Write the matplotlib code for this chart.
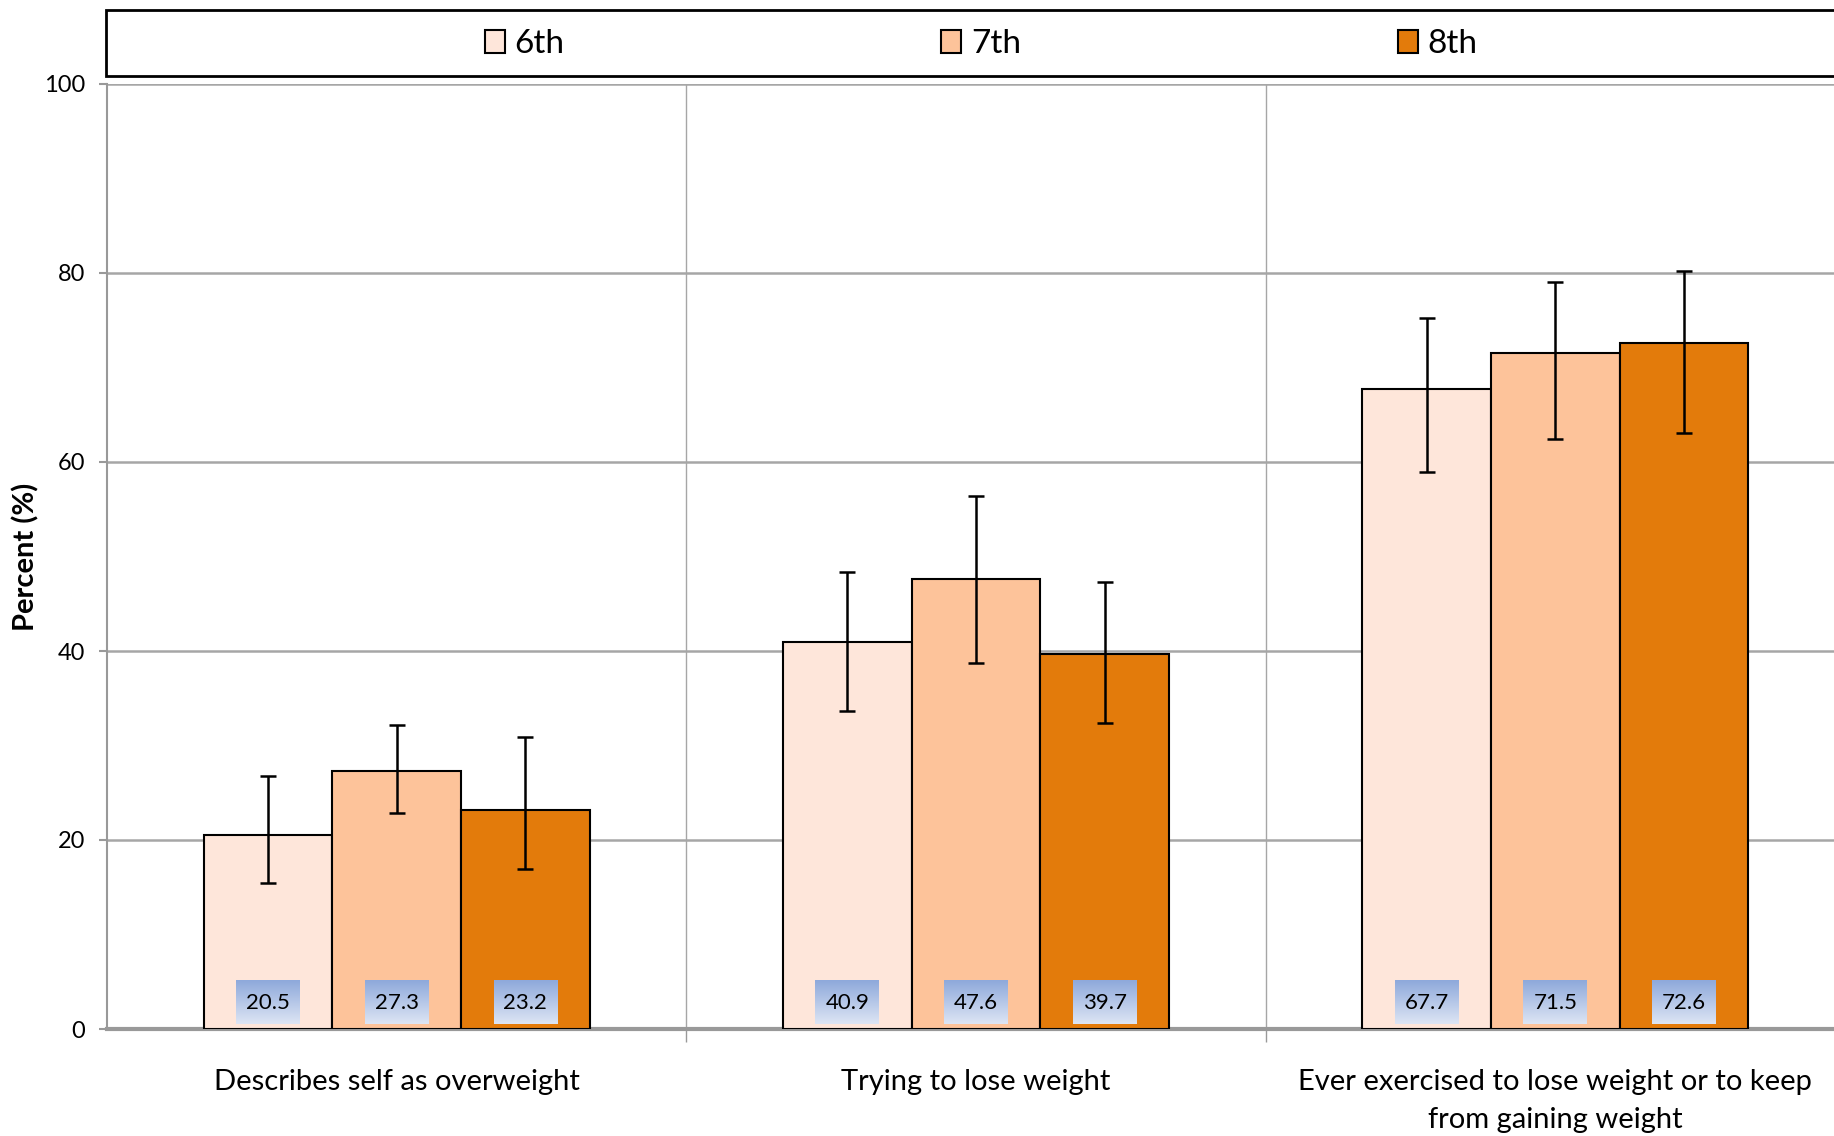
import numpy as np
import matplotlib.pyplot as plt
from matplotlib.patches import Rectangle, Patch

plt.rcParams['font.family'] = ['Lato', 'DejaVu Sans']

# ============================================================
# Data
# ============================================================
categories = ['Describes self as overweight',
              'Trying to lose weight',
              'Ever exercised to lose weight or to keep\nfrom gaining weight']
grades = ['6th', '7th', '8th']
pct_6th = [20.5, 40.9, 67.7]
pct_7th = [27.3, 47.6, 71.5]
pct_8th = [23.2, 39.7, 72.6]
# 95% confidence limits
low_6th = [15.4, 33.7, 58.9]
high_6th = [26.8, 48.4, 75.2]
low_7th = [22.9, 38.7, 62.4]
high_7th = [32.2, 56.4, 79.0]
low_8th = [16.9, 32.4, 63.1]
high_8th = [30.9, 47.3, 80.2]

values = [pct_6th, pct_7th, pct_8th]
lows = [low_6th, low_7th, low_8th]
highs = [high_6th, high_7th, high_8th]
colors = ['#FEE6DA', '#FDC39A', '#E37B0B']

# ============================================================
# Plot
# ============================================================
W, H = 1834, 1136
fig = plt.figure(figsize=(W / 100, H / 100), dpi=100)
ax = fig.add_axes([107 / W, 107 / H, 1738 / W, 945 / H])

x = np.arange(len(categories))
bw = 2 / 9
grad = np.linspace(0, 1, 64).reshape(-1, 1)
top_c = np.array([0x8E, 0xA9, 0xDB]) / 255
bot_c = np.array([0xDD, 0xE5, 0xF4]) / 255
grad_img = top_c[None, None, :] * (1 - grad[:, :, None]) + bot_c[None, None, :] * grad[:, :, None]

for i, (vals, lo, hi, col) in enumerate(zip(values, lows, highs, colors)):
    xs = x + (i - 1) * bw
    vals = np.array(vals)
    ax.bar(xs, vals, width=bw, color=col, edgecolor='black', linewidth=1.5, zorder=3)
    err = [vals - np.array(lo), np.array(hi) - vals]
    ax.errorbar(xs, vals, yerr=err, fmt='none', ecolor='black', elinewidth=1.8,
                capsize=6, capthick=1.8, zorder=4)
    # value labels in gradient boxes at the bottom of the bars
    for xv, v in zip(xs, vals):
        ax.imshow(grad_img, extent=[xv - 0.055, xv + 0.055, 0.5, 5.1],
                  aspect='auto', zorder=5, interpolation='bilinear')
        ax.text(xv, 2.8, f'{v:.1f}', ha='center', va='center', fontsize=16,
                color='black', zorder=6)

ax.set_xlim(-0.5, 2.5)
ax.set_ylim(0, 100)
ax.set_yticks(np.arange(0, 101, 20))
ax.tick_params(axis='y', labelsize=17, length=6, color='#999999', width=1.5, pad=10)

# category boundaries as major ticks / vertical grid, labels on minor ticks
ax.set_xticks([0.5, 1.5, 2.5])
ax.set_xticklabels([])
ax.set_xticks(x, minor=True)
ax.set_xticklabels(categories, minor=True, fontsize=21, linespacing=1.55)
ax.tick_params(axis='x', which='major', length=9, color='#999999', width=1)
ax.tick_params(axis='x', which='minor', length=0, pad=29)
ax.xaxis.grid(True, which='major', color='#A6A6A6', linewidth=1)
ax.yaxis.grid(True, color='#A6A6A6', linewidth=1.8)
ax.set_axisbelow(True)

for s in ['top', 'right']:
    ax.spines[s].set_visible(False)
ax.spines['left'].set_color('#999999')
ax.spines['left'].set_linewidth(1.5)
ax.spines['bottom'].set_color('#999999')
ax.spines['bottom'].set_linewidth(3)

ax.set_ylabel('Percent (%)', fontsize=21, fontweight='bold', labelpad=3)

# legend inside a box across the top
fig.patches.append(Rectangle((106 / W, 1 - 76 / H), 1.0, 66 / H, transform=fig.transFigure,
                             facecolor='white', edgecolor='black', linewidth=2))
handles = [Patch(facecolor=c, edgecolor='black', linewidth=1.5) for c in colors]
fig.legend(handles, grades, loc='center', bbox_to_anchor=(0.535, 1 - 44 / H),
           ncol=3, frameon=False, fontsize=24, handlelength=0.6, handleheight=0.7,
           handletextpad=0.3, columnspacing=11.3)

fig.savefig('out.png', dpi=100)
